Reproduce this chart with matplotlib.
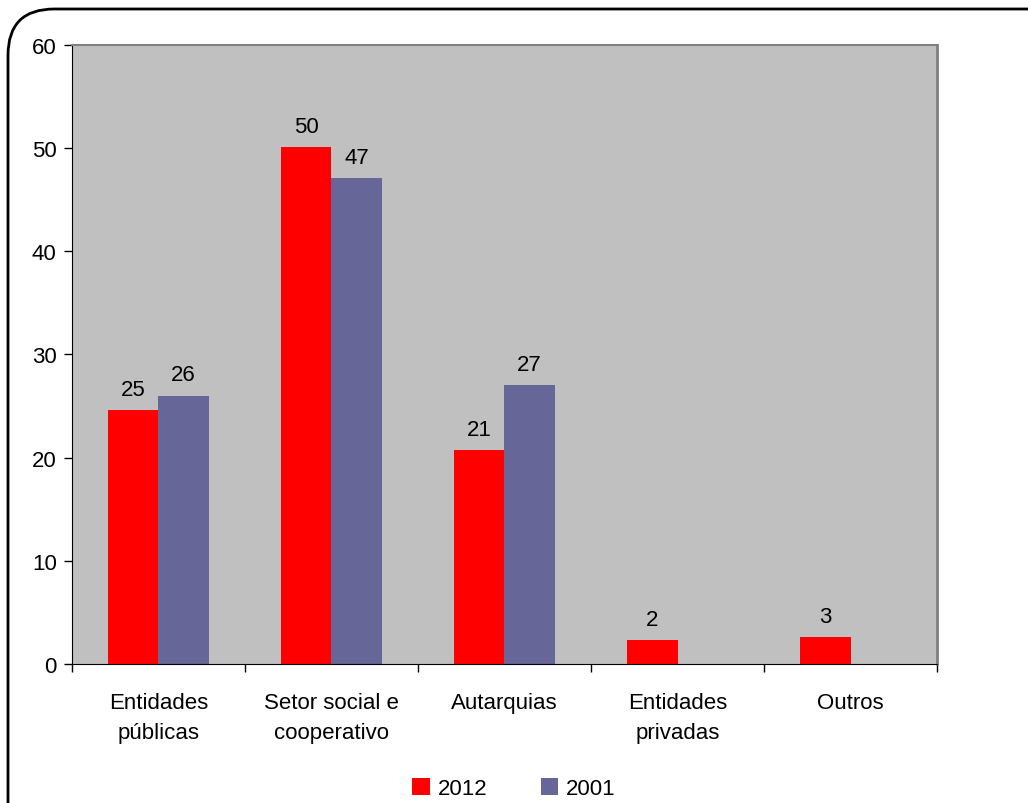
import numpy as np
import matplotlib.pyplot as plt
from matplotlib.patches import FancyBboxPatch

plt.rcParams['font.family'] = ['Liberation Sans', 'DejaVu Sans']

categories = ['Entidades\npúblicas', 'Setor social e\ncooperativo', 'Autarquias', 'Entidades\nprivadas', 'Outros']
vals_2012 = [24.6, 50.1, 20.7, 2.3, 2.6]
vals_2001 = [26.0, 47.1, 27.0, 0, 0]
labels_2012 = ['25', '50', '21', '2', '3']
labels_2001 = ['26', '47', '27', '', '']

fs = 16

fig = plt.figure(figsize=(10.28, 8.04), dpi=100)
ax = fig.add_axes([0.070, 0.1729, 0.8415, 0.7699])
ax.set_facecolor('#C0C0C0')

x = np.arange(len(categories))
w = 0.29
b1 = ax.bar(x - w/2, vals_2012, w, color='#FF0000', label='2012')
b2 = ax.bar(x + w/2, vals_2001, w, color='#666699', label='2001')

for rect, lab in zip(b1, labels_2012):
    ax.text(rect.get_x() + rect.get_width()/2, rect.get_height() + 1.0, lab,
            ha='center', va='bottom', fontsize=fs)
for rect, lab in zip(b2, labels_2001):
    if lab:
        ax.text(rect.get_x() + rect.get_width()/2, rect.get_height() + 1.0, lab,
                ha='center', va='bottom', fontsize=fs)

ax.set_xlim(-0.5, 4.5)
ax.set_ylim(0, 60)
ax.set_yticks(range(0, 61, 10))
ax.tick_params(axis='y', labelsize=fs, direction='out', length=6, width=1, pad=5)
ax.set_xticks(x)
ax.set_xticklabels(categories, fontsize=fs, linespacing=1.55)
ax.tick_params(axis='x', length=0, pad=20)
ax.set_xticks(np.arange(-0.5, 5, 1), minor=True)
ax.tick_params(axis='x', which='minor', direction='out', length=6, width=1)

ax.spines['left'].set_color('black')
ax.spines['bottom'].set_color('black')
ax.spines['top'].set_color('#808080')
ax.spines['right'].set_color('#808080')
ax.spines['top'].set_linewidth(1.5)
ax.spines['right'].set_linewidth(2)

fig.legend(loc='center', bbox_to_anchor=(0.5, 0.018), ncol=2, frameon=False,
           fontsize=fs, handlelength=0.8, handleheight=0.8, columnspacing=2.4, handletextpad=0.35)

border = FancyBboxPatch((8/1028, -0.2), 1.2, 1.2 - 10/804,
                        boxstyle='round,pad=0,rounding_size=0.045',
                        transform=fig.transFigure, fill=False, edgecolor='black', linewidth=2,
                        mutation_aspect=1028/804)
fig.patches.append(border)

fig.savefig('out.png', dpi=100)
